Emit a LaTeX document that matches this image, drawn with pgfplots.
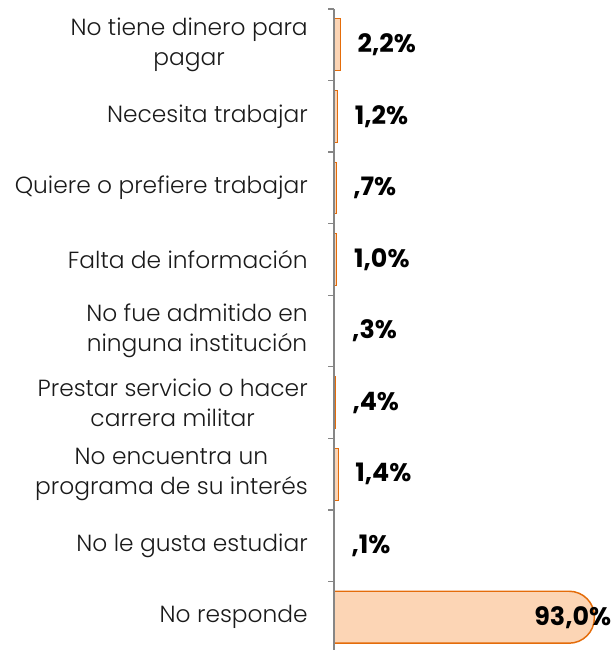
\documentclass[border=0pt]{standalone}
\usepackage{pgfplots}
\pgfplotsset{compat=1.18}
\usepackage{fontspec}
\setmainfont{Poppins}
\newfontfamily\lightfont{Poppins Light}
\definecolor{peach}{RGB}{252,213,181}
\definecolor{barorange}{RGB}{228,108,10}
\definecolor{axisgray}{RGB}{134,134,134}
\definecolor{labelc}{RGB}{26,26,26}
\begin{document}
\begin{tikzpicture}
\begin{axis}[
  at={(250.5pt,480.75pt)}, anchor=north west,
  scale only axis, width=210pt, height=483pt,
  xmin=0, xmax=100, ymin=-0.5, ymax=8.5, y dir=reverse,
  axis x line=none, axis y line*=left,
  axis on top, clip=false,
  xtick=\empty,
  ytick={0,...,8},
  yticklabels={No tiene dinero para\\pagar, Necesita trabajar, Quiere o prefiere trabajar, Falta de información, No fue admitido en\\ninguna institución, Prestar servicio o hacer\\carrera militar, No encuentra un\\programa de su interés, No le gusta estudiar, No responde},
  major tick length=0pt,
  minor ytick={-0.5,0.5,...,8.5},
  minor tick length=4.5pt,
  tick align=outside,
  tick style={axisgray, line width=1pt},
  y axis line style={axisgray, line width=1pt},
  yticklabel style={font=\lightfont\fontsize{17.5}{22.5}\selectfont, text=labelc, align=center, inner sep=0pt, xshift=-19.5pt},
]
\addplot[xbar, bar width=0.726, bar shift=0pt, fill=peach, draw=barorange, line width=0.6pt,
  nodes near coords, point meta=explicit symbolic,
  every node near coord/.append style={font=\bfseries\fontsize{19}{22}\selectfont, text=black, anchor=west, inner sep=0pt, xshift=12.75pt}]
  coordinates {(2.2,0) [2,2\%] (1.2,1) [1,2\%] (0.7,2) [,7\%] (1.0,3) [1,0\%] (0.3,4) [,3\%] (0.4,5) [,4\%] (1.4,6) [1,4\%] (0.1,7) [,1\%]};
\addplot[fill=peach, draw=barorange, line width=1.1pt, rounded corners=19pt]
  coordinates {(0,7.637) (93,7.637) (93,8.363) (0,8.363)};
\addplot[xbar, bar width=0.726, bar shift=0pt, draw=none, fill=none,
  nodes near coords, point meta=explicit symbolic,
  every node near coord/.append style={font=\bfseries\fontsize{19}{22}\selectfont, text=black, anchor=east, inner sep=0pt, xshift=12.75pt}]
  coordinates {(93,8) [93,0\%]};
\end{axis}
\pgfresetboundingbox
\path[use as bounding box] (0,0) rectangle (462pt,487.5pt);
\end{tikzpicture}
\end{document}
